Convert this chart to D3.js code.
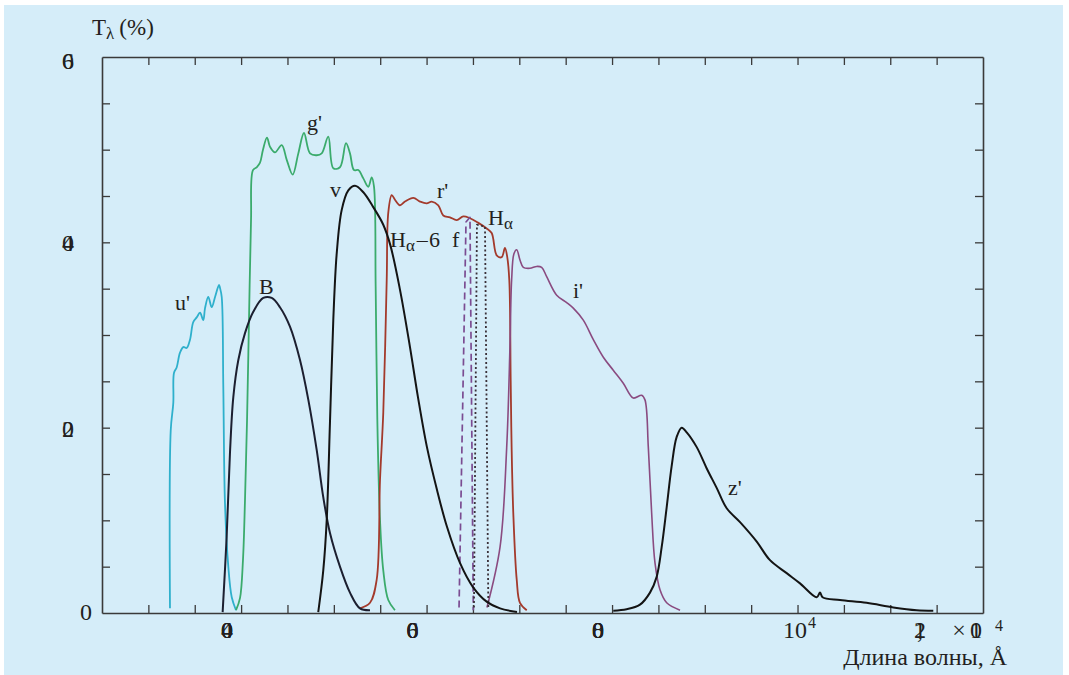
<!DOCTYPE html>
<html>
<head>
<meta charset="utf-8">
<script src="https://cdn.jsdelivr.net/npm/d3@7"></script>
<style>
  body { margin: 0; background: #fff; }
  svg text { font-family: "Liberation Serif", "DejaVu Serif", serif; fill: #231f20; }
</style>
</head>
<body>
<div id="chart"></div>
<script>
// wavelength (Å) and transmission (%)
var uWave = [3233, 3241, 3269, 3276, 3305, 3341, 3377, 3413, 3449, 3484, 3521, 3557, 3592, 3611, 3646, 3683, 3719, 3762, 3772, 3791, 3808, 3826, 3862, 3899, 3945];
var uTrans = [0.5, 19.7, 22.7, 25.9, 26.5, 28.1, 28.7, 28.6, 29.5, 31.4, 31.9, 32.4, 31.6, 32.9, 34.1, 33.0, 34.1, 35.4, 35.1, 34.1, 24.4, 11.9, 5.0, 1.7, 0.3];

var gWave = [3945, 3988, 4020, 4042, 4064, 4085, 4107, 4128, 4168, 4204, 4236, 4279, 4312, 4365, 4438, 4492, 4556, 4617, 4678, 4743, 4815, 4869, 4940, 4994, 5066, 5131, 5174, 5217, 5264, 5318, 5371, 5408, 5433, 5451, 5469, 5498, 5533, 5587, 5659];
var gTrans = [0.3, 1.6, 5.7, 12.2, 20.8, 31.6, 42.4, 47.8, 48.1, 48.6, 50.0, 51.3, 50.3, 49.7, 50.5, 48.9, 47.3, 49.6, 51.8, 49.6, 49.4, 49.6, 51.4, 48.0, 48.1, 50.7, 49.6, 47.8, 47.8, 46.9, 46.0, 47.0, 46.0, 35.2, 20.8, 10.0, 4.6, 1.4, 0.3];

var bWave = [3801, 3844, 3880, 3916, 3970, 4042, 4131, 4239, 4330, 4419, 4527, 4635, 4725, 4815, 4886, 4959, 5066, 5174, 5282, 5390];
var bTrans = [0.1, 8.2, 17.3, 23.3, 27.3, 30.2, 32.5, 34.0, 34.0, 33.0, 30.9, 27.3, 23.0, 17.6, 12.5, 8.6, 5.0, 2.2, 0.5, 0.3];

var vWave = [4832, 4886, 4923, 4959, 4994, 5031, 5085, 5156, 5228, 5318, 5425, 5533, 5609, 5713, 5821, 5907, 6004, 6112, 6220, 6360, 6500, 6651, 6792, 6975];
var vTrans = [0.1, 4.6, 10.0, 20.8, 31.6, 38.8, 43.5, 45.6, 46.1, 45.4, 43.8, 41.9, 39.7, 34.9, 28.7, 23.3, 17.9, 13.3, 9.3, 5.4, 2.8, 1.2, 0.5, 0.1];

var rWave = [5282, 5390, 5462, 5498, 5533, 5570, 5587, 5624, 5659, 5713, 5767, 5857, 5929, 6001, 6055, 6126, 6180, 6252, 6325, 6396, 6468, 6558, 6648, 6702, 6756, 6810, 6845, 6870, 6892, 6907, 6917, 6935, 6972, 7007, 7080];
var rTrans = [0.5, 1.1, 3.6, 14.4, 21.6, 35.9, 43.2, 45.1, 44.6, 44.0, 44.4, 44.8, 44.4, 44.2, 44.4, 44.0, 42.9, 42.7, 42.4, 42.8, 42.6, 42.1, 41.5, 41.0, 38.6, 38.4, 39.4, 38.4, 35.9, 25.1, 17.9, 10.8, 3.6, 1.1, 0.3];

var iWave = [6651, 6792, 6864, 6899, 6917, 6943, 6972, 7007, 7043, 7115, 7187, 7241, 7295, 7403, 7511, 7582, 7690, 7798, 7906, 8013, 8121, 8229, 8319, 8355, 8391, 8427, 8463, 8517, 8589, 8733];
var iTrans = [0.6, 7.1, 17.9, 28.7, 35.9, 38.8, 39.2, 38.1, 37.3, 37.2, 37.4, 37.3, 36.3, 34.3, 33.5, 32.9, 31.6, 29.5, 27.6, 26.2, 24.8, 23.2, 23.5, 23.0, 17.9, 10.8, 5.4, 2.5, 1.1, 0.3];

var zWave = [8013, 8157, 8301, 8409, 8481, 8535, 8589, 8642, 8697, 8751, 8805, 8913, 9021, 9128, 9236, 9380, 9560, 9703, 9883, 10027, 10207, 10243, 10270, 10458, 10745, 11033, 11284, 11464];
var zTrans = [0.25, 0.4, 0.9, 2.2, 3.9, 7.1, 11.4, 15.8, 19.0, 20.0, 19.5, 17.9, 15.6, 13.5, 11.3, 9.8, 7.7, 5.7, 4.3, 3.2, 1.7, 2.2, 1.7, 1.4, 1.1, 0.6, 0.3, 0.25];

// narrow filters: H-alpha continuum (dashed) and H-alpha (dotted)
var hcWave = [6350, 6425, 6468, 6504];
var hcTrans = [0.6, 42.2, 42.7, 0.3];
var haWave = [6511, 6543, 6630, 6666];
var haTrans = [0.6, 41.9, 41.7, 0.6];

var xLabelValues = [4000, 6000, 8000];
var yLabelValues = [20, 40, 60];

var width = 1069, height = 675;
var plot = {left: 102, top: 57, right: 983, bottom: 613};

var svg = d3.select('#chart').append('svg')
  .attr('width', width)
  .attr('height', height);

svg.append('rect')
  .attr('x', 4).attr('y', 5)
  .attr('width', 1059).attr('height', 670)
  .attr('fill', '#d5edf9');

var x = d3.scaleLinear().domain([2500, 12000]).range([plot.left, plot.right]);
var y = d3.scaleLinear().domain([0, 60]).range([plot.bottom, plot.top]);

//frame ticks, all pointing inward
var xTicks = d3.range(3000, 12000, 500);
var yTicks = d3.range(5, 60, 5);
var axisColor = '#3a3a3a';

function styleAxis(g) {
  g.selectAll('path').attr('stroke', axisColor).attr('stroke-width', 1.6);
  g.selectAll('line').attr('stroke', axisColor).attr('stroke-width', 1.3);
  g.selectAll('text').remove();
}

svg.append('g').attr('transform', 'translate(0,' + plot.bottom + ')')
  .call(d3.axisBottom(x).tickValues(xTicks).tickSize(-8).tickSizeOuter(0)).call(styleAxis);
svg.append('g').attr('transform', 'translate(0,' + plot.top + ')')
  .call(d3.axisTop(x).tickValues(xTicks).tickSize(-8).tickSizeOuter(0)).call(styleAxis);
svg.append('g').attr('transform', 'translate(' + plot.left + ',0)')
  .call(d3.axisLeft(y).tickValues(yTicks).tickSize(-8).tickSizeOuter(0)).call(styleAxis);
svg.append('g').attr('transform', 'translate(' + plot.right + ',0)')
  .call(d3.axisRight(y).tickValues(yTicks).tickSize(-8).tickSizeOuter(0)).call(styleAxis);

//curves
var line = d3.line()
  .x(function(d) { return x(d[0]); })
  .y(function(d) { return y(d[1]); })
  .curve(d3.curveCatmullRom.alpha(0.5));
var straight = d3.line()
  .x(function(d) { return x(d[0]); })
  .y(function(d) { return y(d[1]); });

function drawCurve(wave, trans, color, w, dash, gen) {
  var pts = d3.zip(wave, trans);
  svg.append('path')
    .attr('d', (gen || line)(pts))
    .attr('fill', 'none')
    .attr('stroke', color)
    .attr('stroke-width', w)
    .attr('stroke-linejoin', 'round')
    .attr('stroke-dasharray', dash || null);
}

drawCurve(uWave, uTrans, '#2fb0cc', 1.8);
drawCurve(gWave, gTrans, '#3bab6c', 1.8);
drawCurve(rWave, rTrans, '#a33a2c', 1.8);
drawCurve(iWave, iTrans, '#8a4b80', 1.6);
drawCurve(hcWave, hcTrans, '#7b4c92', 1.7, '7,4', straight);
drawCurve(haWave, haTrans, '#3a3038', 1.8, '2,2.5', straight);
drawCurve(bWave, bTrans, '#1c1f30', 2);
drawCurve(vWave, vTrans, '#141414', 2);
drawCurve(zWave, zTrans, '#141414', 2);

//curve labels
var labels = svg.append('g').attr('font-size', 22);
function label(str, px, py) {
  labels.append('text').attr('x', px).attr('y', py).text(str);
}
label("u'", 175, 310);
label('B', 259, 294);
label("g'", 307, 130);
label('v', 330, 197);
label("r'", 437, 198);
label("i'", 573, 298);
label("z'", 728, 495);

var ha = labels.append('text').attr('x', 488).attr('y', 225);
ha.append('tspan').text('H');
ha.append('tspan').attr('font-size', 17).attr('dy', 4).text('α');

var hc = labels.append('text').attr('x', 390).attr('y', 247);
hc.append('tspan').text('H');
hc.append('tspan').attr('font-size', 17).attr('dy', 4).text('α');
hc.append('tspan').attr('dy', -4).attr('dx', 2).text('–');
hc.append('tspan').attr('x', 429).text('6');
hc.append('tspan').attr('x', 452).text('f');

//tick labels, digits printed on top of each other as in the source
var tickText = svg.append('g').attr('font-size', 24).attr('text-anchor', 'middle');
function stacked(str, cx, by) {
  var t = tickText.append('text').attr('y', by);
  str.split('').forEach(function(c) {
    t.append('tspan').attr('x', cx).text(c);
  });
}

xLabelValues.forEach(function(v) { stacked(String(v), x(v) - 14, 638); });
tickText.append('text').attr('x', 795).attr('y', 638).text('10');
tickText.append('text').attr('x', 812).attr('y', 628).attr('font-size', 16).text('4');
stacked('1,2', 920, 638);
tickText.append('text').attr('x', 959).attr('y', 638).text('×');
stacked('10', 976, 638);
tickText.append('text').attr('x', 999).attr('y', 631).attr('font-size', 16).text('4');

yLabelValues.forEach(function(v) { stacked(String(v), 68, y(v) + (v == 60 ? 12 : 9)); });
tickText.append('text').attr('x', 86).attr('y', plot.bottom + 7).text('0');

//axis titles
var yTitle = svg.append('text').attr('x', 92).attr('y', 35).attr('font-size', 23);
yTitle.append('tspan').text('T');
yTitle.append('tspan').attr('font-size', 17).attr('dy', 4).text('λ');
yTitle.append('tspan').attr('dy', -4).attr('dx', 5).text('(%)');

svg.append('text')
  .attr('x', 1007).attr('y', 665)
  .attr('text-anchor', 'end')
  .attr('font-size', 24)
  .text('Длина волны, Å');
</script>
</body>
</html>
